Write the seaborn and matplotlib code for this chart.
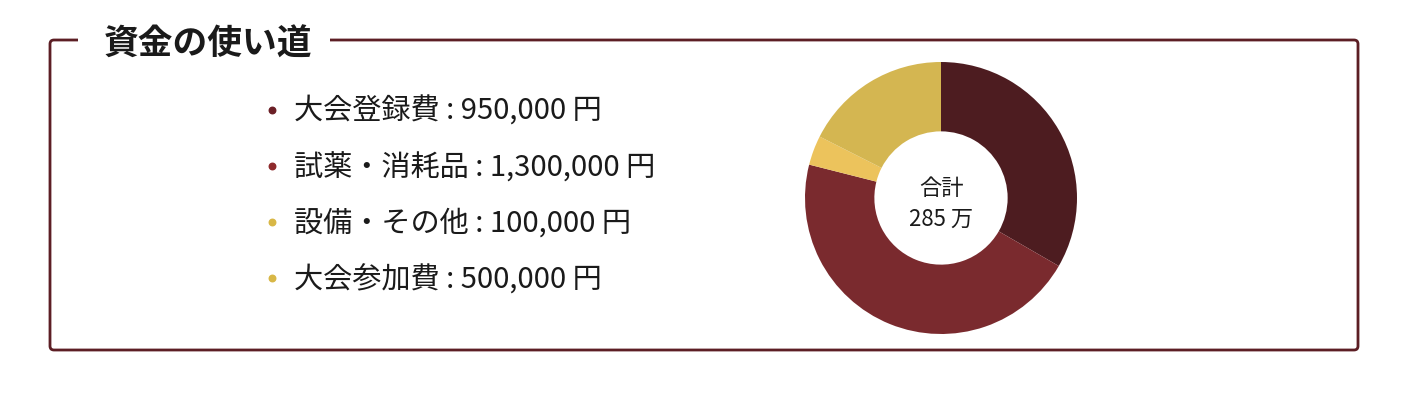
import matplotlib
matplotlib.use("Agg")
import matplotlib.pyplot as plt
from matplotlib.patches import FancyBboxPatch, Rectangle
import seaborn as sns

# data
categories = ["大会登録費", "試薬・消耗品", "設備・その他", "大会参加費"]
amounts = [950000, 1300000, 100000, 500000]
slice_colors = ["#4d1c20", "#7a2a2e", "#ecc35c", "#d4b651"]
bullet_colors = ["#6b1f26", "#8e2a2c", "#d8b746", "#d8b746"]
title = "資金の使い道"

sns.set_theme(style="white")
plt.rcParams["font.family"] = ["Noto Sans CJK JP", "DejaVu Sans"]

W, H = 1428, 404
fig = plt.figure(figsize=(W / 100, H / 100), dpi=100)
fig.set_facecolor("white")

# overlay axes in pixel coords
bg = fig.add_axes([0, 0, 1, 1])
bg.set_xlim(0, W)
bg.set_ylim(H, 0)
bg.axis("off")

border = "#5c1e24"
box = FancyBboxPatch((50, 40), 1308, 310, boxstyle="round,pad=0,rounding_size=4",
                     facecolor="none", edgecolor=border, linewidth=2.0)
bg.add_patch(box)
bg.add_patch(Rectangle((78, 30), 252, 20, facecolor="white", edgecolor="none", zorder=3))
bg.text(104, 44, title, fontsize=25, fontweight="bold", color="#1a1a1a",
        va="center", ha="left", zorder=4)

ys = [109, 165, 221, 277]
for name, amt, bc, y in zip(categories, amounts, bullet_colors, ys):
    bg.scatter([272], [y + 1], s=22, color=bc, zorder=4)
    bg.text(294, y + 3, f"{name} : {amt:,} 円", fontsize=21, color="#1a1a1a",
            va="center", ha="left")

# donut
cx, cy, r = 941, 198, 136
pax = fig.add_axes([(cx - r) / W, (H - cy - r) / H, 2 * r / W, 2 * r / H])
pax.pie(amounts, colors=slice_colors, startangle=90, counterclock=False,
        radius=1, wedgeprops=dict(width=0.51, edgecolor="none"))
pax.set_xlim(-1, 1)
pax.set_ylim(-1, 1)
pax.set_aspect("equal")
pax.axis("off")
total = sum(amounts) // 10000
pax.text(0, 0.07, "合計", ha="center", va="center", fontsize=16, color="#1a1a1a")
pax.text(0, -0.16, f"{total} 万", ha="center", va="center", fontsize=16, color="#1a1a1a")

fig.savefig("out.png", dpi=100, facecolor="white")
